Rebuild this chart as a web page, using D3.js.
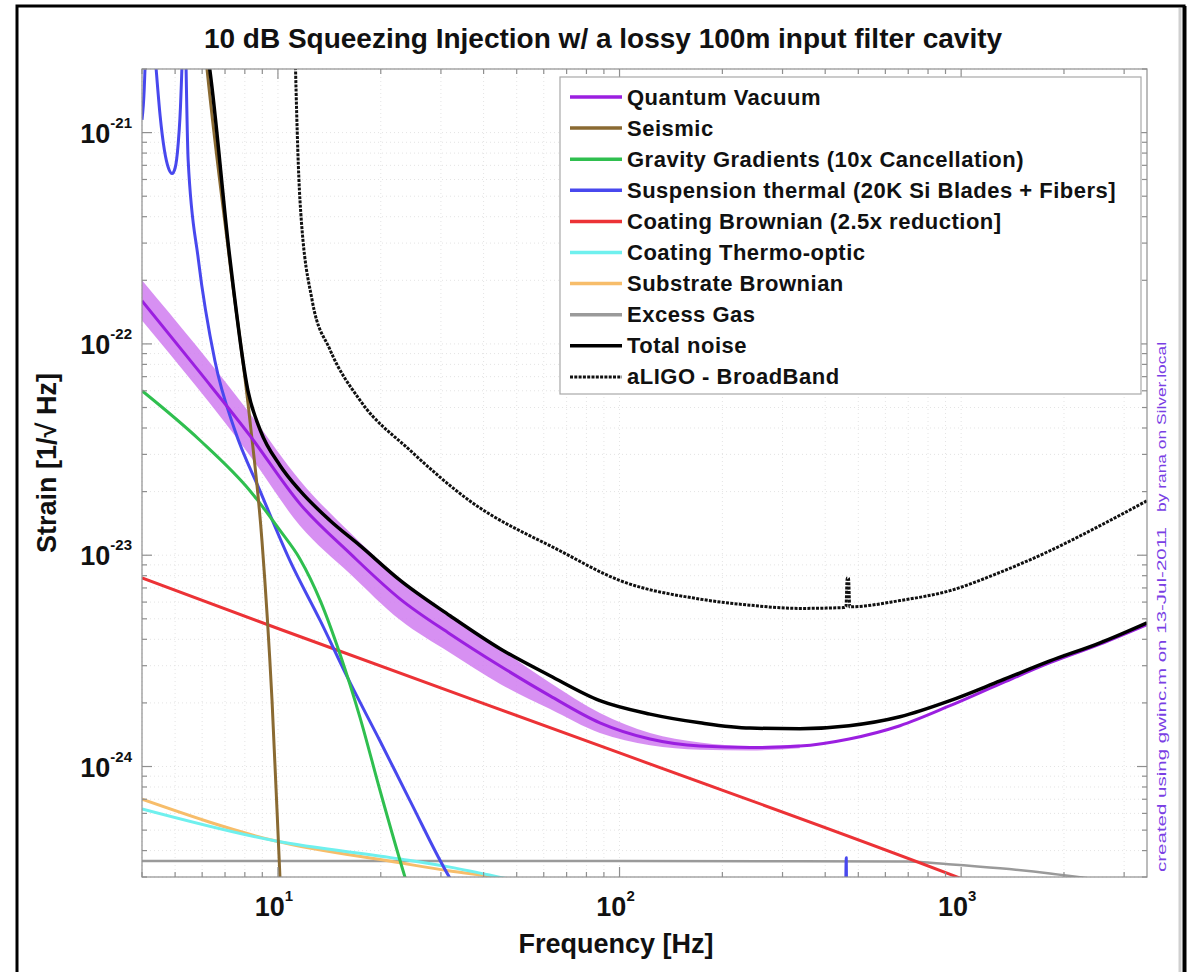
<!DOCTYPE html>
<html lang="en">
<head>
<meta charset="UTF-8">
<title>10 dB Squeezing Injection</title>
<script src="https://d3js.org/d3.v7.min.js"></script>
<style>
  body { margin: 0; background: #fff; }
  svg { display: block; font-family: "Liberation Sans", Arial, Helvetica, sans-serif; }
</style>
</head>
<body>
<svg id="chart" width="1191" height="972"></svg>
<script>
// axes: frequency [Hz] and strain [1/sqrt(Hz)]
const xDomain = [4, 3500];
const yDomain = [3e-25, 2e-21];
const xTickExps = [1, 2, 3];
const yTickExps = [-24, -23, -22, -21];

// noise curves, [frequency, strain]
const quantum = [[4, 1.6e-22], [5.91, 7.33e-23], [8.28, 3.68e-23], [11.6, 1.75e-23], [16.25, 1.02e-23],
  [22.8, 6.2e-24], [31.9, 4.24e-24], [44.7, 2.99e-24], [62.6, 2.16e-24], [87.6, 1.61e-24],
  [122.8, 1.35e-24], [172, 1.25e-24], [241, 1.23e-24], [337, 1.25e-24], [470, 1.35e-24],
  [662, 1.56e-24], [928, 1.94e-24], [1300, 2.46e-24], [1820, 3.1e-24], [2550, 3.8e-24],
  [3500, 4.7e-24]];

// [frequency, low, high] of the shaded quantum band
const quantumBand = [[4, 1.29e-22, 2.0e-22], [8.28, 2.96e-23, 4.69e-23], [11.6, 1.38e-23, 2.26e-23],
  [16.25, 8.17e-24, 1.28e-23], [22.8, 4.93e-24, 7.74e-24], [31.9, 3.45e-24, 5.22e-24],
  [44.7, 2.46e-24, 3.6e-24], [62.6, 1.87e-24, 2.49e-24], [87.6, 1.44e-24, 1.79e-24],
  [122.8, 1.26e-24, 1.44e-24], [172, 1.2e-24, 1.3e-24], [241, 1.19e-24, 1.25e-24],
  [337, 1.22e-24, 1.27e-24]];

const seismic = [[6.1, 2.6e-21], [6.2, 2.0e-21], [7.22, 2.49e-22], [8.28, 4.34e-23],
  [8.98, 1.17e-23], [9.61, 2.05e-24], [10.14, 2.96e-25], [10.4, 1.2e-25]];

const gravity = [[4, 6.0e-23], [5.91, 3.5e-23], [8.28, 2.02e-23], [10.14, 1.31e-23], [11.6, 9.6e-24],
  [13.3, 6.1e-24], [15.2, 3.4e-24], [17.4, 1.7e-24], [19.9, 7.7e-25], [23.6, 2.96e-25], [26, 1.8e-25]];

const suspension = [[4, 1.15e-21], [4.06, 1.6e-21], [4.11, 3e-21], [4.17, 1.2e-20], [4.26, 4e-21],
  [4.4, 2e-21], [4.52, 1.2e-21], [4.65, 8.3e-22], [4.78, 6.8e-22], [4.9, 6.4e-22], [5.0, 6.8e-22],
  [5.1, 8.7e-22], [5.2, 1.5e-21], [5.26, 3e-21], [5.3, 1.2e-20], [5.37, 2.6e-21], [5.46, 7.4e-22],
  [5.85, 2.5e-22], [6.54, 8.3e-23], [7.48, 3.9e-23], [8.88, 2.0e-23], [10.85, 9.4e-24],
  [13.3, 4.9e-24], [16.25, 2.5e-24], [19.9, 1.32e-24], [24.35, 6.9e-25], [31.9, 2.96e-25],
  [36, 2.2e-25], [70, 4e-26], [430, 1e-27], [455, 3e-26], [461, 3.7e-25], [467, 3e-26],
  [500, 1e-27], [3500, 1e-29]];

const coatingBrownian = [[4, 7.8e-24], [10, 4.5e-24], [100, 1.16e-24], [1000, 2.95e-25], [1300, 2.5e-25]];

const coatingThermoOptic = [[4, 6.3e-25], [9.79, 4.45e-25], [22.8, 3.65e-25], [31.9, 3.34e-25],
  [46.1, 2.96e-25], [60, 2.7e-25]];

const substrateBrownian = [[4, 7.0e-25], [9.79, 4.45e-25], [22.8, 3.5e-25], [31.9, 3.2e-25],
  [44.7, 2.96e-25], [60, 2.6e-25]];

const excessGas = [[4, 3.57e-25], [100, 3.57e-25], [700, 3.55e-25], [917, 3.45e-25],
  [1300, 3.3e-25], [1820, 3.12e-25], [2346, 2.96e-25], [3000, 2.8e-25]];

const totalNoise = [[6.1, 2.9e-21], [6.3, 2.05e-21], [7.22, 2.6e-22], [8.17, 6.0e-23], [8.88, 3.9e-23],
  [10.14, 2.66e-23], [11.6, 2.02e-23], [14.2, 1.46e-23], [17.4, 1.11e-23], [22.8, 7.6e-24],
  [31.9, 5.17e-24], [44.7, 3.61e-24], [62.6, 2.69e-24], [87.6, 2.05e-24], [122.8, 1.77e-24],
  [172, 1.61e-24], [241, 1.52e-24], [337, 1.51e-24], [470, 1.56e-24], [662, 1.72e-24],
  [928, 2.05e-24], [1300, 2.54e-24], [1820, 3.16e-24], [2550, 3.85e-24], [3500, 4.79e-24]];

const aligo = [[11.1, 6e-21], [11.26, 2e-21], [11.6, 4.8e-22], [12.6, 1.6e-22], [14.2, 9.4e-23],
  [17.4, 5.4e-23], [24.4, 3.13e-23], [36.4, 1.81e-23], [66.9, 1.05e-23], [100, 7.6e-24],
  [172, 6.2e-24], [241, 5.8e-24], [337, 5.6e-24], [452, 5.65e-24], [460, 5.7e-24],
  [464, 7.8e-24], [468, 7.8e-24], [472, 5.7e-24], [662, 6.1e-24], [928, 6.8e-24],
  [1300, 8.3e-24], [1820, 1.05e-23], [2550, 1.38e-23], [3500, 1.81e-23]];

const legendNames = ["Quantum Vacuum", "Seismic", "Gravity Gradients (10x Cancellation)",
  "Suspension thermal (20K Si Blades + Fibers]", "Coating Brownian (2.5x reduction]",
  "Coating Thermo-optic", "Substrate Brownian", "Excess Gas", "Total noise", "aLIGO - BroadBand"];
const legendColors = ["#9b1fe0", "#8a6a32", "#2fbf4f", "#4848ee", "#ec3236",
  "#6ff0ee", "#f7bd6a", "#9a9a9a", "#000000", "#111111"];

const W = 1191, H = 972;
const plot = { left: 142, right: 1147, top: 69, bottom: 877 };

const svg = d3.select("#chart");
svg.append("rect").attr("width", W).attr("height", H).attr("fill", "#fff");

// outer frame, the right edge is heavier in the picture
svg.append("rect")
  .attr("x", 17).attr("y", 6)
  .attr("width", 1167).attr("height", 1000)
  .attr("fill", "none").attr("stroke", "#000").attr("stroke-width", 3);
svg.append("line").attr("x1", 1185).attr("x2", 1185).attr("y1", 6).attr("y2", H)
  .attr("stroke", "#000").attr("stroke-width", 3);
svg.append("line").attr("x1", 1180).attr("x2", 1180).attr("y1", 8).attr("y2", H)
  .attr("stroke", "#d0d0d0").attr("stroke-width", 3);

const x = d3.scaleLog().domain(xDomain).range([plot.left, plot.right]);
const y = d3.scaleLog().domain(yDomain).range([plot.bottom, plot.top]);

const isMajor = v => Math.abs(Math.log10(v) - Math.round(Math.log10(v))) < 1e-9;
const xTicks = x.ticks();
const yTicks = y.ticks();

// grid
const grid = svg.append("g").attr("stroke", "#e4e4e4").attr("stroke-width", 1)
  .attr("stroke-dasharray", "1,3");
grid.selectAll(".gx").data(xTicks).enter().append("line")
  .attr("x1", d => x(d)).attr("x2", d => x(d))
  .attr("y1", plot.top).attr("y2", plot.bottom);
grid.selectAll(".gy").data(yTicks).enter().append("line")
  .attr("y1", d => y(d)).attr("y2", d => y(d))
  .attr("x1", plot.left).attr("x2", plot.right);

// clip for curves
svg.append("clipPath").attr("id", "clip").append("rect")
  .attr("x", plot.left).attr("y", plot.top)
  .attr("width", plot.right - plot.left).attr("height", plot.bottom - plot.top);

const curves = svg.append("g").attr("clip-path", "url(#clip)");

const line = d3.line().x(d => x(d[0])).y(d => y(d[1])).curve(d3.curveMonotoneX);
const band = d3.area().x(d => x(d[0])).y0(d => y(d[1])).y1(d => y(d[2])).curve(d3.curveMonotoneX);

curves.append("path").datum(quantumBand)
  .attr("d", band).attr("fill", "#d07cf0").attr("fill-opacity", 0.85);

const series = [
  { data: excessGas, color: legendColors[7], width: 2.5 },
  { data: substrateBrownian, color: legendColors[6], width: 3 },
  { data: coatingThermoOptic, color: legendColors[5], width: 3 },
  { data: coatingBrownian, color: legendColors[4], width: 3 },
  { data: suspension, color: legendColors[3], width: 3 },
  { data: gravity, color: legendColors[2], width: 3 },
  { data: seismic, color: legendColors[1], width: 3 },
  { data: quantum, color: legendColors[0], width: 3 },
  { data: totalNoise, color: legendColors[8], width: 3.5 },
  { data: aligo, color: legendColors[9], width: 3, dash: "3,1.3" }
];

curves.selectAll(".curve").data(series).enter().append("path")
  .attr("class", "curve")
  .attr("d", d => line(d.data))
  .attr("fill", "none")
  .attr("stroke", d => d.color)
  .attr("stroke-width", d => d.width)
  .attr("stroke-dasharray", d => d.dash || null)
  .attr("stroke-linejoin", "round");

// axes box and inward ticks
const axisColor = "#8f8f8f";
svg.append("rect")
  .attr("x", plot.left).attr("y", plot.top)
  .attr("width", plot.right - plot.left).attr("height", plot.bottom - plot.top)
  .attr("fill", "none").attr("stroke", axisColor).attr("stroke-width", 1.2);

const ticks = svg.append("g").attr("stroke", axisColor).attr("stroke-width", 1.2);
xTicks.forEach(t => {
  const len = isMajor(t) ? 10 : 5;
  ticks.append("line").attr("x1", x(t)).attr("x2", x(t))
    .attr("y1", plot.bottom).attr("y2", plot.bottom - len);
  ticks.append("line").attr("x1", x(t)).attr("x2", x(t))
    .attr("y1", plot.top).attr("y2", plot.top + len);
});
yTicks.forEach(t => {
  const len = isMajor(t) ? 10 : 5;
  ticks.append("line").attr("y1", y(t)).attr("y2", y(t))
    .attr("x1", plot.left).attr("x2", plot.left + len);
  ticks.append("line").attr("y1", y(t)).attr("y2", y(t))
    .attr("x1", plot.right).attr("x2", plot.right - len);
});

// tick labels, 10 with exponent
const xl = svg.append("g").attr("font-weight", "bold").attr("fill", "#111");
xTickExps.forEach(e => {
  const t = xl.append("text").attr("x", x(Math.pow(10, e)) - 4).attr("y", 916)
    .attr("text-anchor", "middle").attr("font-size", 27);
  t.append("tspan").text("10");
  t.append("tspan").attr("dy", -15).attr("font-size", 15).text(e);
});
yTickExps.forEach(e => {
  const t = xl.append("text").attr("x", 132).attr("y", y(Math.pow(10, e)) + 10)
    .attr("text-anchor", "end").attr("font-size", 27);
  t.append("tspan").text("10");
  t.append("tspan").attr("dy", -15).attr("font-size", 15).text(e);
});

// title and axis labels
svg.append("text").attr("x", 603).attr("y", 48)
  .attr("text-anchor", "middle").attr("font-size", 28).attr("font-weight", "bold")
  .attr("fill", "#111")
  .text("10 dB Squeezing Injection w/ a lossy 100m input filter cavity");

svg.append("text").attr("x", 616).attr("y", 953)
  .attr("text-anchor", "middle").attr("font-size", 27).attr("font-weight", "bold")
  .attr("fill", "#111").text("Frequency [Hz]");

svg.append("text")
  .attr("transform", "translate(56,463) rotate(-90)")
  .attr("text-anchor", "middle").attr("font-size", 27).attr("font-weight", "bold")
  .attr("fill", "#111").text("Strain [1/\u221a Hz]");

// stamp on the right edge
const stamp = svg.append("g").attr("fill", "#7a3fe4").attr("font-size", 12);
stamp.append("text")
  .attr("transform", "translate(1166,872) rotate(-90)")
  .attr("textLength", 345).attr("lengthAdjust", "spacingAndGlyphs")
  .text("created using gwinc.m on 13-Jul-2011");
stamp.append("text")
  .attr("transform", "translate(1166,512) rotate(-90)")
  .attr("textLength", 170).attr("lengthAdjust", "spacingAndGlyphs")
  .text("by rana on Silver.local");

// legend
const lg = svg.append("g");
lg.append("rect").attr("x", 560).attr("y", 77).attr("width", 581).attr("height", 317)
  .attr("fill", "#fff").attr("stroke", "#a8a8a8").attr("stroke-width", 1.2);
legendNames.forEach((name, i) => {
  const yy = 97 + i * 31.1;
  lg.append("line").attr("x1", 570).attr("x2", 622).attr("y1", yy).attr("y2", yy)
    .attr("stroke", legendColors[i]).attr("stroke-width", i === 9 ? 3 : 3.5)
    .attr("stroke-dasharray", i === 9 ? "3,1.3" : null);
  lg.append("text").attr("x", 627).attr("y", yy + 7.5)
    .attr("font-size", 22).attr("font-weight", "bold").attr("letter-spacing", 0.5)
    .attr("fill", "#111")
    .text(name);
});
</script>
</body>
</html>
